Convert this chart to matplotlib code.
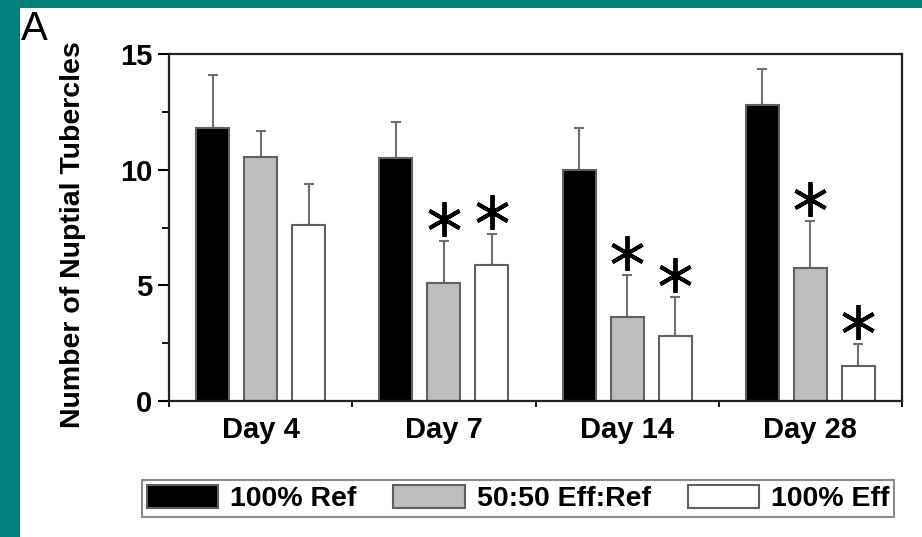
import matplotlib
matplotlib.use("Agg")
import matplotlib.pyplot as plt
import numpy as np
from matplotlib.patches import Rectangle
from matplotlib.ticker import MultipleLocator

# ---- data ----
days = ["Day 4", "Day 7", "Day 14", "Day 28"]
series = ["100% Ref", "50:50 Eff:Ref", "100% Eff"]
ref_mean = [11.8, 10.5, 10.0, 12.8]
ref_err = [2.3, 1.55, 1.8, 1.55]
mix_mean = [10.55, 5.1, 3.65, 5.75]
mix_err = [1.1, 1.8, 1.8, 2.05]
eff_mean = [7.6, 5.9, 2.8, 1.5]
eff_err = [1.8, 1.3, 1.7, 0.95]
mix_sig = [False, True, True, True]
eff_sig = [False, True, True, True]
yticks = [0, 5, 10, 15]

# ---- style ----
FONT = "Liberation Sans"
plt.rcParams["font.family"] = [FONT, "DejaVu Sans"]
W, H = 922, 537
fig = plt.figure(figsize=(W / 100, H / 100), dpi=100)
fig.patch.set_facecolor("white")
teal = "#007f7b"
# teal frame (left strip and top strip)
fig.add_artist(Rectangle((0, 0), 20 / W, 1, transform=fig.transFigure,
                         facecolor=teal, edgecolor="none", zorder=0))
fig.add_artist(Rectangle((0, 1 - 8 / H), 1, 8 / H, transform=fig.transFigure,
                         facecolor=teal, edgecolor="none", zorder=0))

ax = fig.add_axes([169 / W, 1 - 401 / H, (902 - 169) / W, (401 - 54) / H])

means = [ref_mean, mix_mean, eff_mean]
errs = [ref_err, mix_err, eff_err]
fills = ["black", "#bdbdbd", "white"]
offsets = [-0.262, 0.0, 0.262]
bw = 0.18
x = np.arange(len(days)) + 0.5

for m, e, c, off, lab in zip(means, errs, fills, offsets, series):
    ax.bar(x + off, m, width=bw, color=c, edgecolor="#606060", linewidth=1.5,
           label=lab, zorder=2)
    ax.errorbar(x + off, m, yerr=[np.zeros(len(m)), e], fmt="none",
                ecolor="#707070", elinewidth=1.5, capsize=3.5, capthick=1.5,
                zorder=1)

for m, e, sig, off in [(mix_mean, mix_err, mix_sig, 0.0),
                       (eff_mean, eff_err, eff_sig, 0.262)]:
    for i in range(len(days)):
        if sig[i]:
            ax.plot(x[i] + off, m[i] + e[i] + 0.95, marker=(6, 2, 0),
                    markersize=25, markeredgewidth=2.8, color="black",
                    zorder=3)

ax.set_xlim(0, 4)
ax.set_ylim(0, 15)
ax.set_yticks(yticks)
ax.set_yticklabels([str(t) for t in yticks])
ax.yaxis.set_minor_locator(MultipleLocator(2.5))
ax.set_xticks(x)
ax.set_xticklabels(days, fontweight="bold")
ax.set_xticks([0, 1, 2, 3, 4], minor=True)
ax.tick_params(axis="x", which="major", length=0, pad=11, labelsize=21)
ax.tick_params(axis="x", which="minor", length=4, width=1.3, direction="out")
ax.tick_params(axis="y", which="major", length=8, width=1.5, direction="out",
               pad=4, labelsize=21)
ax.tick_params(axis="y", which="minor", length=5, width=1.3, direction="out")
for lbl in ax.get_yticklabels():
    lbl.set_fontweight("bold")
for s in ax.spines.values():
    s.set_linewidth(1.6)
    s.set_color("#222222")

fig.text(73 / W, 1 - 235 / H, "Number of Nuptial Tubercles", rotation=90,
         ha="center", va="center", fontsize=20.5, fontweight="bold")
fig.text(21 / W, 1 - 10 / H, "A", ha="left", va="top", fontsize=29)

leg = fig.legend(loc="center", ncol=3,
                 bbox_to_anchor=((145 + 891) / 2 / W, 1 - 498.5 / H),
                 bbox_transform=fig.transFigure,
                 prop={"size": 20.5, "weight": "bold"}, frameon=True,
                 fancybox=False, shadow=False, handlelength=2.5,
                 handleheight=0.85, handletextpad=0.42, columnspacing=1.3,
                 borderpad=0.18, borderaxespad=0)
leg.get_frame().set_edgecolor("#707070")
leg.get_frame().set_linewidth(1.5)
leg.get_frame().set_facecolor("white")

fig.savefig("out.png", dpi=100)
